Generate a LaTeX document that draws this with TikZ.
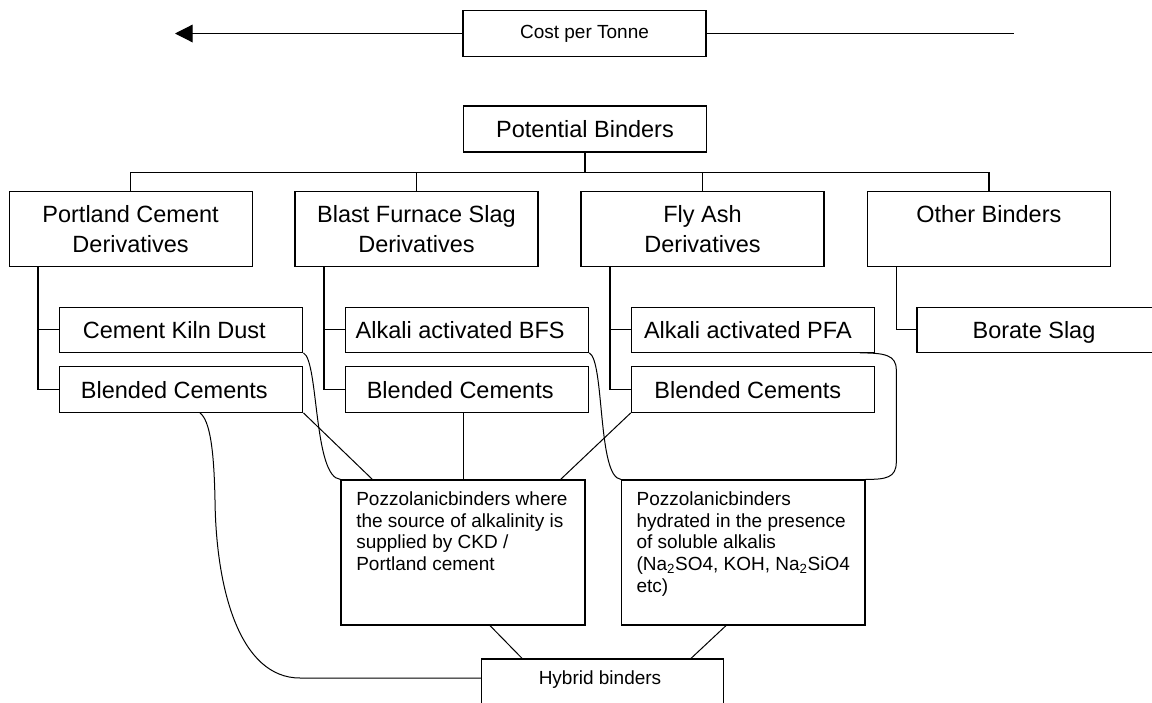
\documentclass[tikz,border=0pt]{standalone}
\usepackage{fontspec}
\setmainfont{Liberation Sans}
\usetikzlibrary{arrows.meta}
\begin{document}
\begin{tikzpicture}[x=1pt,y=-1pt,
  box/.style={draw, line width=1.2pt, inner sep=0pt, minimum width=243pt},
  big/.style={font=\fontsize{23.5}{30.7}\selectfont},
  small/.style={font=\fontsize{19}{21.7}\selectfont},
  subtxt/.style={big, inner sep=0pt, text height=17pt, text depth=0pt},
  conn/.style={line width=1.2pt},
  curve/.style={line width=1pt}]
\useasboundingbox (0,0) rectangle (1152,702);

% cost axis
\node[box, small, minimum height=46.6pt] (cost) at (584.5,33.5) {Cost per Tonne};
\coordinate (costL) at (175,33.5);
\coordinate (costR) at (1014,33.5);
\draw[conn, -{Triangle[length=17.7pt,width=17.7pt]}] (cost.west) -- (costL);
\draw[conn] (cost.east) -- (costR);

% root
\node[box, big, minimum height=46pt] (pot) at (585,129) {Potential Binders};

% families
\node[box, big, align=center, minimum height=75pt] (pc) at (130.6,229.2) {Portland Cement\\Derivatives};
\node[box, big, align=center, minimum height=75pt] (bfs) at (416.5,229.2) {Blast Furnace Slag\\Derivatives};
\node[box, big, align=center, minimum height=75pt] (fa) at (702.5,229.2) {Fly Ash\\Derivatives};
\node[box, big, align=center, minimum height=75pt] (ob) at (988.9,229.2) {Other Binders\\\mbox{}};

% sub boxes
\node[box, minimum height=45pt] (ckd) at (181.35,329.8) {};
\node[box, minimum height=45.6pt] (bc1) at (181.35,389.5) {};
\node[box, minimum height=45pt] (abfs) at (467.2,329.8) {};
\node[box, minimum height=45.6pt] (bc2) at (467.2,389.5) {};
\node[box, minimum height=45pt] (apfa) at (752.85,329.8) {};
\node[box, minimum height=45.6pt] (bc3) at (752.85,389.5) {};
\node[box, minimum height=45pt, minimum width=248pt] (bor) at (1041,329.8) {};

\node[subtxt] (ckdt) at ([xshift=-7pt]ckd.center) {Cement Kiln Dust};
\node[subtxt] (bc1t) at ([xshift=-7pt]bc1.center) {Blended Cements};
\node[subtxt] (abfst) at ([xshift=-7pt]abfs.center) {Alkali activated BFS};
\node[subtxt] (bc2t) at ([xshift=-7pt]bc2.center) {Blended Cements};
\node[subtxt] (apfat) at ([xshift=-5pt]apfa.center) {Alkali activated PFA};
\node[subtxt] (bc3t) at ([xshift=-5pt]bc3.center) {Blended Cements};
\node[subtxt] (bort) at ([xshift=-7pt]bor.center) {Borate Slag};

% pozzolanic boxes
\node[box, minimum height=145pt, minimum width=244pt] (p1) at (463,552.5) {};
\node[box, minimum height=145pt, minimum width=243.5pt] (p2) at (743.25,552.5) {};
\node[small, anchor=north west, inner sep=0pt, align=left] (p1t) at ([xshift=15.7pt,yshift=-12pt]p1.north west)
  {Pozzolanicbinders where\\the source of alkalinity is\\supplied by CKD /\\Portland cement};
\node[small, anchor=north west, inner sep=0pt, align=left] (p2t) at ([xshift=15.5pt,yshift=-12pt]p2.north west)
  {Pozzolanicbinders\\hydrated in the presence\\of soluble alkalis\\(Na\textsubscript{2}SO4, KOH, Na\textsubscript{2}SiO4\\etc)};

% hybrid
\node[box, minimum height=61pt, minimum width=242.2pt] (hyb) at (602.6,689.5) {};
\node[small, inner sep=0pt, text height=13.6pt, text depth=0pt] (hybt) at (600,678) {Hybrid binders};

% tree connectors
\draw[conn] (pot.south) -- ++(0,19.7) coordinate (bus);
\draw[conn] (bus) -| (pc.north);
\draw[conn] (bus) -| (bfs.north);
\draw[conn] (bus) -| (fa.north);
\draw[conn] (bus) -| (ob.north);

\coordinate (sp1) at ([xshift=29.5pt]pc.south west);
\coordinate (sp2) at ([xshift=29.5pt]bfs.south west);
\coordinate (sp3) at ([xshift=29.5pt]fa.south west);
\coordinate (sp4) at ([xshift=29.5pt]ob.south west);
\draw[conn] (sp1) |- (bc1.west);
\draw[conn] (ckd.west) -- (ckd.west -| sp1);
\draw[conn] (sp2) |- (bc2.west);
\draw[conn] (abfs.west) -- (abfs.west -| sp2);
\draw[conn] (sp3) |- (bc3.west);
\draw[conn] (apfa.west) -- (apfa.west -| sp3);
\draw[conn] (sp4) |- (bor.west);

% links to pozzolanic boxes
\draw[curve] (bc1.south east) -- ([xshift=32pt]p1.north west);
\draw[curve] (p1.north |- bc2.south) -- (p1.north);
\draw[curve] (bc3.south west) -- ([xshift=-25pt]p1.north east);
\draw[curve] (ckd.south east) .. controls +(15.3,7.7) and +(-27,-2) .. (p1.north west);
\draw[curve] (abfs.south east) .. controls +(15.3,7.7) and +(-23.5,-2) .. (p2.north west);
\coordinate (r1) at (896.3,370);
\coordinate (r2) at (896.3,462);
\draw[curve] ([xshift=-15pt]apfa.south east) .. controls +(25,0) and +(0,-15) .. (r1) -- (r2)
  .. controls +(0,16) and +(20,0) .. (p2.north east);

% links to hybrid
\draw[curve] ([xshift=27pt]p1.south) -- ([xshift=-80.5pt]hyb.north);
\draw[curve] ([xshift=-17.25pt]p2.south) -- ([xshift=88.4pt]hyb.north);
\coordinate (c4a) at (215,500);
\coordinate (c4b) at (300,678);
\draw[curve] ([xshift=18.65pt]bc1.south) .. controls +(10,7.7) and +(-1,-50) .. (c4a)
  .. controls +(1,90) and +(-60,0) .. (c4b) -- (hyb.west |- hybt.center);
\end{tikzpicture}
\end{document}
